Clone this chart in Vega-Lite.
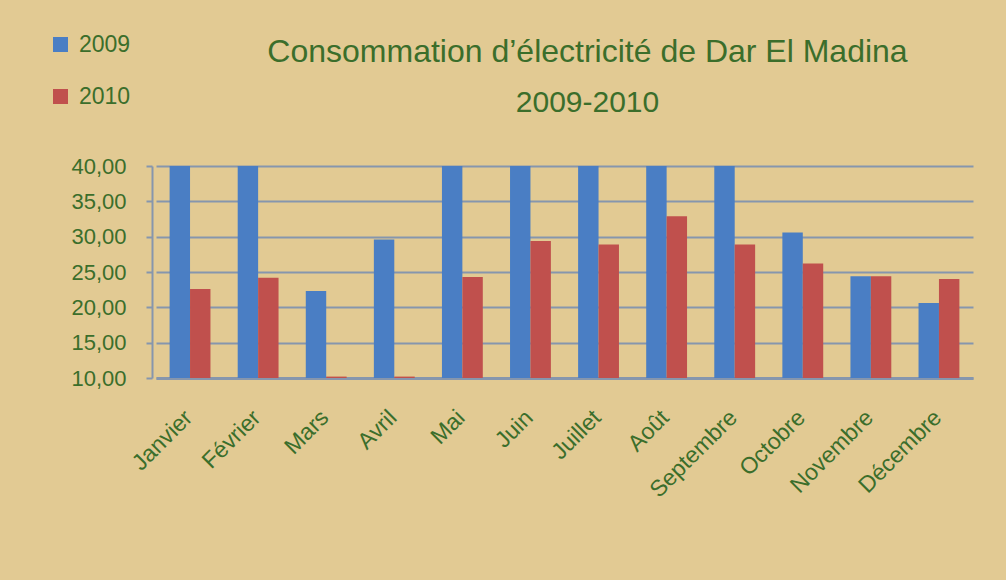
{
  "$schema": "https://vega.github.io/schema/vega-lite/v6.json",
  "autosize": {"type": "none"},
  "width": 817,
  "height": 212,
  "padding": {"left": 156, "top": 166, "right": 33, "bottom": 202},
  "background": "#e2ca93",
  "title": {
    "text": "Consommation d’électricité de Dar El Madina",
    "subtitle": "2009-2010",
    "anchor": "middle",
    "dx": 23,
    "offset": -86,
    "font": "Liberation Sans",
    "fontSize": 32,
    "fontWeight": "normal",
    "color": "#3b6e2b",
    "subtitleFont": "Liberation Sans",
    "subtitleFontSize": 30,
    "subtitleColor": "#3b6e2b",
    "subtitlePadding": 19
  },
  "data": {
    "values": [
      {"mois": "Janvier", "annee": "2009", "valeur": 40},
      {"mois": "Janvier", "annee": "2010", "valeur": 22.6},
      {"mois": "Février", "annee": "2009", "valeur": 40},
      {"mois": "Février", "annee": "2010", "valeur": 24.2},
      {"mois": "Mars", "annee": "2009", "valeur": 22.3},
      {"mois": "Mars", "annee": "2010", "valeur": 10.2},
      {"mois": "Avril", "annee": "2009", "valeur": 29.6},
      {"mois": "Avril", "annee": "2010", "valeur": 10.2},
      {"mois": "Mai", "annee": "2009", "valeur": 40},
      {"mois": "Mai", "annee": "2010", "valeur": 24.3},
      {"mois": "Juin", "annee": "2009", "valeur": 40},
      {"mois": "Juin", "annee": "2010", "valeur": 29.4},
      {"mois": "Juillet", "annee": "2009", "valeur": 40},
      {"mois": "Juillet", "annee": "2010", "valeur": 28.9},
      {"mois": "Août", "annee": "2009", "valeur": 40},
      {"mois": "Août", "annee": "2010", "valeur": 32.9},
      {"mois": "Septembre", "annee": "2009", "valeur": 40},
      {"mois": "Septembre", "annee": "2010", "valeur": 28.9},
      {"mois": "Octobre", "annee": "2009", "valeur": 30.6},
      {"mois": "Octobre", "annee": "2010", "valeur": 26.2},
      {"mois": "Novembre", "annee": "2009", "valeur": 24.4},
      {"mois": "Novembre", "annee": "2010", "valeur": 24.4},
      {"mois": "Décembre", "annee": "2009", "valeur": 20.6},
      {"mois": "Décembre", "annee": "2010", "valeur": 24.0}
    ]
  },
  "mark": {"type": "bar"},
  "encoding": {
    "x": {
      "field": "mois",
      "type": "nominal",
      "sort": ["Janvier", "Février", "Mars", "Avril", "Mai", "Juin", "Juillet", "Août", "Septembre", "Octobre", "Novembre", "Décembre"],
      "scale": {"paddingInner": 0.4, "paddingOuter": 0.2},
      "axis": {
        "title": null,
        "labelAngle": -45,
        "labelFont": "Liberation Sans",
        "labelFontSize": 23,
        "labelColor": "#3b6e2b",
        "labelPadding": 28,
        "labelOffset": -9,
        "ticks": false,
        "domainColor": "#8696ad",
        "domainWidth": 3,
        "grid": false
      }
    },
    "xOffset": {"field": "annee", "type": "nominal", "scale": {"paddingInner": 0, "paddingOuter": 0}},
    "y": {
      "field": "valeur",
      "type": "quantitative",
      "scale": {"domain": [10, 40], "zero": false, "nice": false},
      "axis": {
        "title": null,
        "values": [10, 15, 20, 25, 30, 35, 40],
        "labelExpr": "replace(format(datum.value, '.2f'), '.', ',')",
        "labelFont": "Liberation Sans",
        "labelFontSize": 22,
        "labelColor": "#3b6e2b",
        "labelPadding": 20,
        "offset": 4,
        "tickSize": 6,
        "tickColor": "#8696ad",
        "tickWidth": 2,
        "domainColor": "#8696ad",
        "domainWidth": 2,
        "gridColor": "#8696ad",
        "gridWidth": 2,
        "gridOpacity": 1
      }
    },
    "y2": {"datum": 10},
    "color": {
      "field": "annee",
      "type": "nominal",
      "scale": {"domain": ["2009", "2010"], "range": ["#4a7ec4", "#c0504d"]},
      "legend": {
        "title": null,
        "orient": "none",
        "legendX": -107,
        "legendY": -133,
        "symbolType": "square",
        "symbolSize": 225,
        "symbolStrokeWidth": 0,
        "symbolOpacity": 1,
        "labelFont": "Liberation Sans",
        "labelFontSize": 23,
        "labelColor": "#3b6e2b",
        "labelOffset": 7,
        "rowPadding": 28
      }
    }
  },
  "config": {
    "view": {"stroke": null}
  }
}
